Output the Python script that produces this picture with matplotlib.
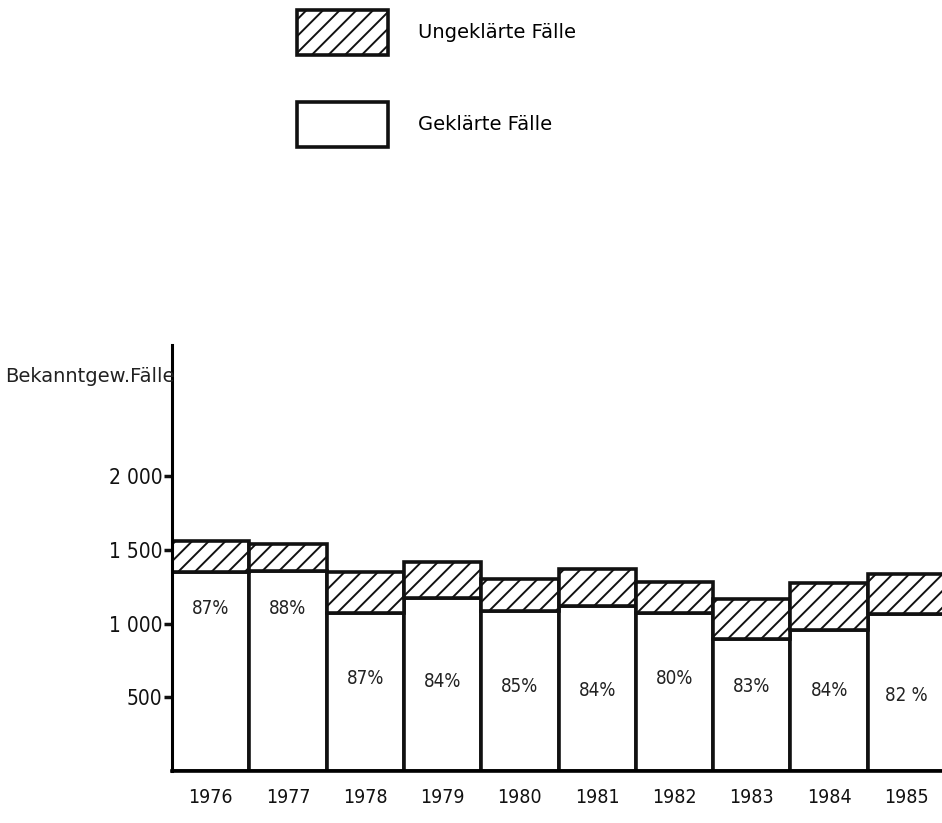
import matplotlib.pyplot as plt
from matplotlib.patches import Patch

# Data
years = ['1976', '1977', '1978', '1979', '1980', '1981', '1982', '1983', '1984', '1985']
geklaert = [1350, 1360, 1075, 1175, 1085, 1120, 1075, 895, 955, 1065]
gesamt = [1560, 1540, 1350, 1420, 1305, 1370, 1285, 1170, 1275, 1335]
quote = ['87%', '88%', '87%', '84%', '85%', '84%', '80%', '83%', '84%', '82 %']
quote_y = [1105, 1100, 625, 610, 570, 545, 630, 570, 545, 510]  # label heights as drawn
yticks = [500, 1000, 1500, 2000]
ytick_labels = ['500', '1 000', '1 500', '2 000']

ungeklaert = [t - g for t, g in zip(gesamt, geklaert)]

plt.rcParams['hatch.linewidth'] = 1.4
plt.rcParams['font.family'] = ['DejaVu Sans']
plt.rcParams['font.stretch'] = 'condensed'

fig = plt.figure(figsize=(9.42, 8.23), dpi=100)
ax = fig.add_axes([172 / 942, 52 / 823, 1 - 172 / 942, 426 / 823])

x = [i + 0.5 for i in range(len(years))]
ax.bar(x, geklaert, width=1.0, color='white', edgecolor='#111111', linewidth=2.6)
ax.bar(x, ungeklaert, bottom=geklaert, width=1.0, color='white', edgecolor='#111111',
       linewidth=2.6, hatch='//')

for xi, txt, yi in zip(x, quote, quote_y):
    ax.text(xi, yi, txt, ha='center', va='center', fontsize=13.5, color='#222222')

ax.set_xlim(0, 9.96)
ax.set_ylim(0, 2890)
ax.set_yticks(yticks)
ax.set_yticklabels(ytick_labels, fontsize=15)
ax.set_xticks(x)
ax.set_xticklabels(years, fontsize=14)
ax.tick_params(axis='y', length=6, width=2.5, pad=1, colors='#111111')
ax.tick_params(axis='x', length=0, pad=12, colors='#111111')

for s in ['top', 'right']:
    ax.spines[s].set_visible(False)
ax.spines['left'].set_linewidth(2.2)
ax.spines['bottom'].set_linewidth(2.6)

fig.text(5 / 942, 1 - 376 / 823, 'Bekanntgew.Fälle', fontsize=14, va='center', ha='left',
         color='#222222', fontstretch='normal')

handles = [Patch(facecolor='white', edgecolor='#111111', linewidth=2.6, hatch='//'),
           Patch(facecolor='white', edgecolor='#111111', linewidth=2.6)]
leg = fig.legend(handles, ['Ungeklärte Fälle', 'Geklärte Fälle'],
                 loc='upper left', bbox_to_anchor=(297 / 942, 1 - 10 / 823),
                 frameon=False, fontsize=14, borderpad=0, borderaxespad=0,
                 handlelength=4.7, handleheight=3.15, labelspacing=2.45, handletextpad=1.5)
for t in leg.get_texts():
    t.set_fontstretch('normal')

plt.savefig('out.png', dpi=100)
